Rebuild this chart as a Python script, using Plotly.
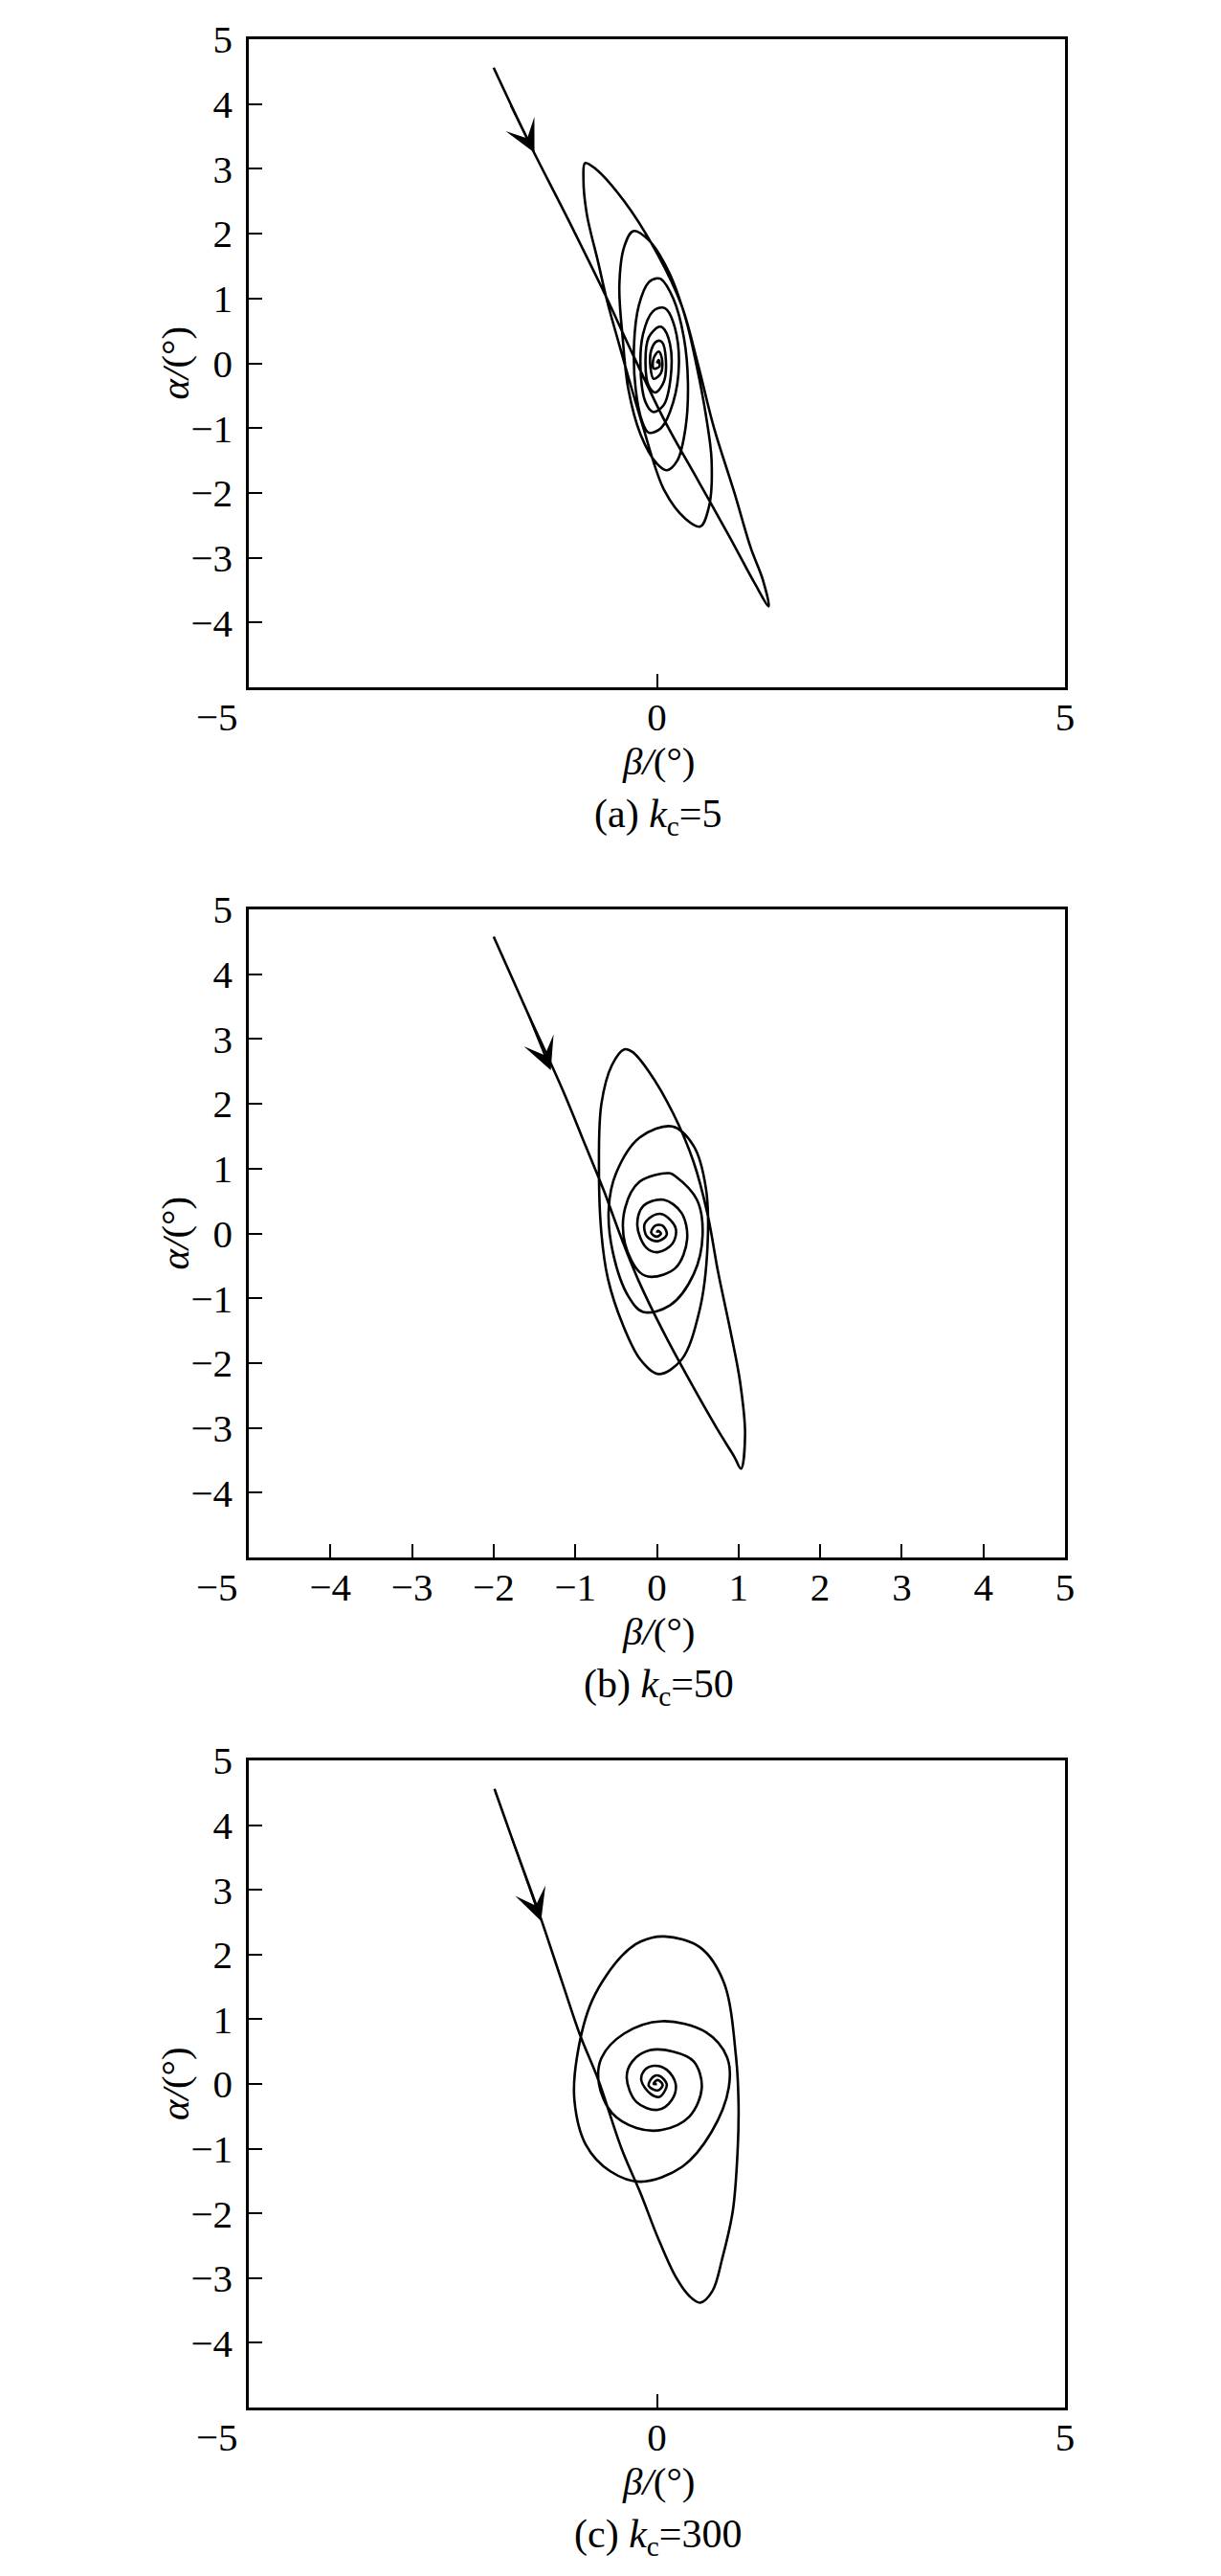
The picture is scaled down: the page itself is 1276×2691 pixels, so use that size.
import plotly.graph_objects as go

# ---------------- data ----------------
# Panel (a): k_c = 5
BETA_A = [-2.00, -1.56, -1.10, -0.65, -0.30, 0.10, 0.50, 0.90, 1.20, 1.37,
          1.30, 1.15, 0.95, 0.70, 0.50, 0.30, 0.00, -0.40, -0.75, -0.88,
          -0.90, -0.86, -0.72, -0.61, -0.46, -0.33, -0.18, 0.09, 0.35, 0.53,
          0.64, 0.67, 0.60, 0.48, 0.35, 0.15, -0.10, -0.29,
          -0.40, -0.46, -0.42, -0.35, -0.20, 0.00, 0.12,
          0.25, 0.35, 0.38, 0.33, 0.20, 0.05, 0.00,
          -0.10, -0.22, -0.28, -0.26, -0.18, -0.10,
          0.05, 0.20, 0.27, 0.22, 0.12, 0.07,
          -0.05, -0.17, -0.20, -0.14, -0.05,
          0.08, 0.17, 0.16, 0.07, 0.02,
          -0.10, -0.14, -0.10, -0.02,
          0.08, 0.11, 0.06, 0.00,
          -0.07, -0.08, -0.04,
          0.05, 0.06, 0.02,
          -0.04, -0.04, 0.03, 0.02, 0.00]
ALPHA_A = [4.56, 3.39, 2.25, 1.10, 0.15, -0.90, -1.80, -2.70, -3.40, -3.75,
           -3.35, -2.85, -2.00, -1.00, 0.00, 0.90, 1.70, 2.50, 3.00, 3.09,
           2.85, 2.31, 1.56, 0.96, 0.28, -0.30, -0.94, -1.96, -2.40, -2.52,
           -2.20, -1.50, -0.80, 0.00, 0.70, 1.40, 1.90, 2.04,
           1.80, 1.20, 0.40, -0.40, -1.10, -1.55, -1.65,
           -1.50, -1.00, -0.30, 0.40, 1.00, 1.30, 1.31,
           1.25, 0.90, 0.30, -0.40, -0.90, -1.07,
           -1.00, -0.60, 0.00, 0.55, 0.83, 0.86,
           0.80, 0.45, -0.10, -0.60, -0.75,
           -0.65, -0.20, 0.30, 0.55, 0.56,
           0.40, 0.00, -0.35, -0.45,
           -0.30, 0.05, 0.33, 0.34,
           0.20, -0.05, -0.24,
           -0.15, 0.08, 0.18,
           0.08, -0.08, -0.05, 0.05, 0.00]
ARROW_A = [-1.50, 3.25]
ARROW_A_TAIL = [-1.80, 4.00]

# Panel (b): k_c = 50
BETA_B = [-2.00, -1.60, -1.16, -0.87, -0.65, -0.43, -0.21, 0.08, 0.37, 0.74, 0.95, 1.03,
          1.08, 1.02, 0.90, 0.75, 0.62, 0.45, 0.20, -0.10, -0.30, -0.40,
          -0.55, -0.68, -0.71, -0.68, -0.60, -0.42, -0.20, 0.02,
          0.30, 0.52, 0.62, 0.60, 0.45, 0.19,
          -0.21, -0.50, -0.59, -0.54, -0.35, -0.17,
          0.16, 0.45, 0.56, 0.49, 0.23, 0.15,
          -0.21, -0.39, -0.39, -0.21, -0.07,
          0.23, 0.37, 0.30, 0.08,
          -0.17, -0.24, -0.13, 0.01,
          0.19, 0.23, 0.08, -0.02,
          -0.15, -0.12, 0.01,
          0.12, 0.07, -0.02,
          -0.07, 0.00, 0.05, 0.01, 0.00]
ALPHA_B = [4.58, 3.45, 2.23, 1.34, 0.66, -0.09, -0.77, -1.52, -2.20, -3.02, -3.45, -3.63,
           -3.10, -2.30, -1.50, -0.60, 0.30, 1.10, 1.85, 2.50, 2.80, 2.84,
           2.60, 2.00, 1.00, 0.00, -0.70, -1.40, -1.95, -2.17,
           -1.95, -1.20, -0.20, 0.70, 1.35, 1.65,
           1.48, 0.93, 0.39, -0.29, -0.97, -1.21,
           -1.11, -0.63, -0.02, 0.52, 0.88, 0.93,
           0.80, 0.39, -0.16, -0.60, -0.67,
           -0.53, -0.09, 0.32, 0.52,
           0.42, 0.12, -0.22, -0.29,
           -0.16, 0.08, 0.29, 0.29,
           0.15, -0.05, -0.12,
           -0.02, 0.12, 0.12,
           0.01, -0.05, 0.00, 0.04, 0.01]
ARROW_B = [-1.30, 2.52]
ARROW_B_TAIL = [-1.60, 3.45]

# Panel (c): k_c = 300
BETA_C = [-1.99, -1.78, -1.45, -1.16, -0.94, -0.72, -0.43, -0.20, 0.01, 0.23, 0.40, 0.53,
          0.68, 0.80, 0.93, 0.99, 1.00, 0.97, 0.82, 0.53, 0.09,
          -0.20, -0.43, -0.79, -0.98, -1.01, -0.87, -0.57, -0.20,
          0.31, 0.67, 0.88, 0.86, 0.60, 0.06,
          -0.40, -0.68, -0.71, -0.55, -0.25, 0.06,
          0.40, 0.55, 0.45, 0.20, -0.09,
          -0.30, -0.37, -0.25, 0.01,
          0.18, 0.23, 0.12, -0.04,
          -0.16, -0.19, -0.08, 0.03,
          0.10, 0.12, 0.04, -0.02,
          -0.08, -0.10, 0.01,
          0.07, 0.03, 0.00, -0.04, 0.00]
ALPHA_C = [4.56, 3.81, 2.66, 1.57, 0.75, 0.07, -1.01, -1.69, -2.37, -2.98, -3.28, -3.38,
           -3.20, -2.70, -1.96, -1.00, -0.30, 0.41, 1.57, 2.11, 2.28,
           2.20, 1.98, 1.30, 0.41, -0.26, -0.94, -1.35, -1.51,
           -1.28, -0.74, -0.06, 0.41, 0.80, 0.97,
           0.78, 0.40, 0.00, -0.45, -0.68, -0.71,
           -0.50, -0.05, 0.35, 0.50, 0.52,
           0.35, 0.10, -0.28, -0.40,
           -0.25, 0.00, 0.22, 0.28,
           0.20, 0.05, -0.15, -0.20,
           -0.10, 0.00, 0.12, 0.13,
           0.06, -0.03, -0.10,
           -0.02, 0.05, 0.06, 0.00, 0.00]
ARROW_C = [-1.42, 2.52]
ARROW_C_TAIL = [-1.78, 3.81]

CAPTIONS = ["(a) <i>k</i><sub>c</sub>=5", "(b) <i>k</i><sub>c</sub>=50", "(c) <i>k</i><sub>c</sub>=300"]
X_TICKS_SPARSE = [0, 5]
X_TICKS_FULL = [-4, -3, -2, -1, 0, 1, 2, 3, 4, 5]
Y_TICKS = [-4, -3, -2, -1, 0, 1, 2, 3, 4, 5]

# ---------------- layout geometry (pixels) ----------------
W, H = 1276, 2691
X_LEFT, X_RIGHT = 260, 1113
PANELS = [(41, 718), (950, 1627), (1839, 2515)]
FONT = "Liberation Serif, Times New Roman, serif"
FS = 41


def px(x):
    return x / W


def py(y):
    return 1 - y / H


def lab(v):
    return ("\u2212" + str(-v)) if v < 0 else str(v)


fig = go.Figure()
series = [(BETA_A, ALPHA_A, ARROW_A, ARROW_A_TAIL, X_TICKS_SPARSE),
          (BETA_B, ALPHA_B, ARROW_B, ARROW_B_TAIL, X_TICKS_FULL),
          (BETA_C, ALPHA_C, ARROW_C, ARROW_C_TAIL, X_TICKS_SPARSE)]

annotations = []
for i, ((bx, ay, arr, tail, xt), (top, bot)) in enumerate(zip(series, PANELS)):
    n = "" if i == 0 else str(i + 1)
    fig.add_trace(go.Scatter(x=bx, y=ay, mode="lines",
                             line=dict(color="black", width=2.6, shape="spline", smoothing=1.0),
                             xaxis="x" + n, yaxis="y" + n, showlegend=False, hoverinfo="skip"))
    axis_common = dict(showgrid=False, zeroline=False, showline=True, mirror=True,
                       automargin=False,
                       linecolor="black", linewidth=2.5, ticks="inside", ticklen=14,
                       tickwidth=2, tickcolor="black",
                       tickfont=dict(family=FONT, size=FS, color="black"))
    fig.update_layout(**{
        "xaxis" + n: dict(axis_common, domain=[px(X_LEFT), px(X_RIGHT)], range=[-5, 5],
                          anchor="y" + n, tickvals=xt, ticktext=[lab(v) for v in xt],
                          ticklabelstandoff=-7),
        "yaxis" + n: dict(axis_common, domain=[py(bot), py(top)], range=[-5, 5],
                          anchor="x" + n, tickvals=Y_TICKS, ticktext=[lab(v) for v in Y_TICKS],
                          ticklabelstandoff=6),
    })
    # corner "-5" label
    annotations.append(dict(xref="paper", yref="paper", x=px(251), y=py(bot + 31),
                            xanchor="right", yanchor="middle", showarrow=False, text="\u22125",
                            font=dict(family=FONT, size=FS, color="black")))
    # x title
    annotations.append(dict(xref="paper", yref="paper", x=px(688), y=py(bot + 77),
                            xanchor="center", yanchor="middle", showarrow=False,
                            text="<i>\u03b2/</i>(\u00b0)",
                            font=dict(family=FONT, size=FS, color="black")))
    # y title
    annotations.append(dict(xref="paper", yref="paper", x=px(183), y=py((top + bot) / 2),
                            xanchor="center", yanchor="middle", showarrow=False, textangle=-90,
                            text="<i>\u03b1/</i>(\u00b0)",
                            font=dict(family=FONT, size=FS, color="black")))
    # caption
    annotations.append(dict(xref="paper", yref="paper", x=px(688), y=py(bot + 135),
                            xanchor="center", yanchor="middle", showarrow=False,
                            text=CAPTIONS[i],
                            font=dict(family=FONT, size=FS + 1, color="black")))
    # arrow head on trajectory
    annotations.append(dict(xref="x" + n, yref="y" + n, axref="x" + n, ayref="y" + n,
                            x=arr[0], y=arr[1], ax=tail[0], ay=tail[1], text="",
                            showarrow=True, arrowhead=3, arrowsize=2.8, arrowwidth=2,
                            arrowcolor="black"))

fig.update_layout(width=W, height=H, margin=dict(l=0, r=0, t=0, b=0, pad=0),
                  paper_bgcolor="white", plot_bgcolor="white", annotations=annotations)

fig.write_html("out.html", config={"displayModeBar": False},
               post_script="document.body.style.margin='0px';")
